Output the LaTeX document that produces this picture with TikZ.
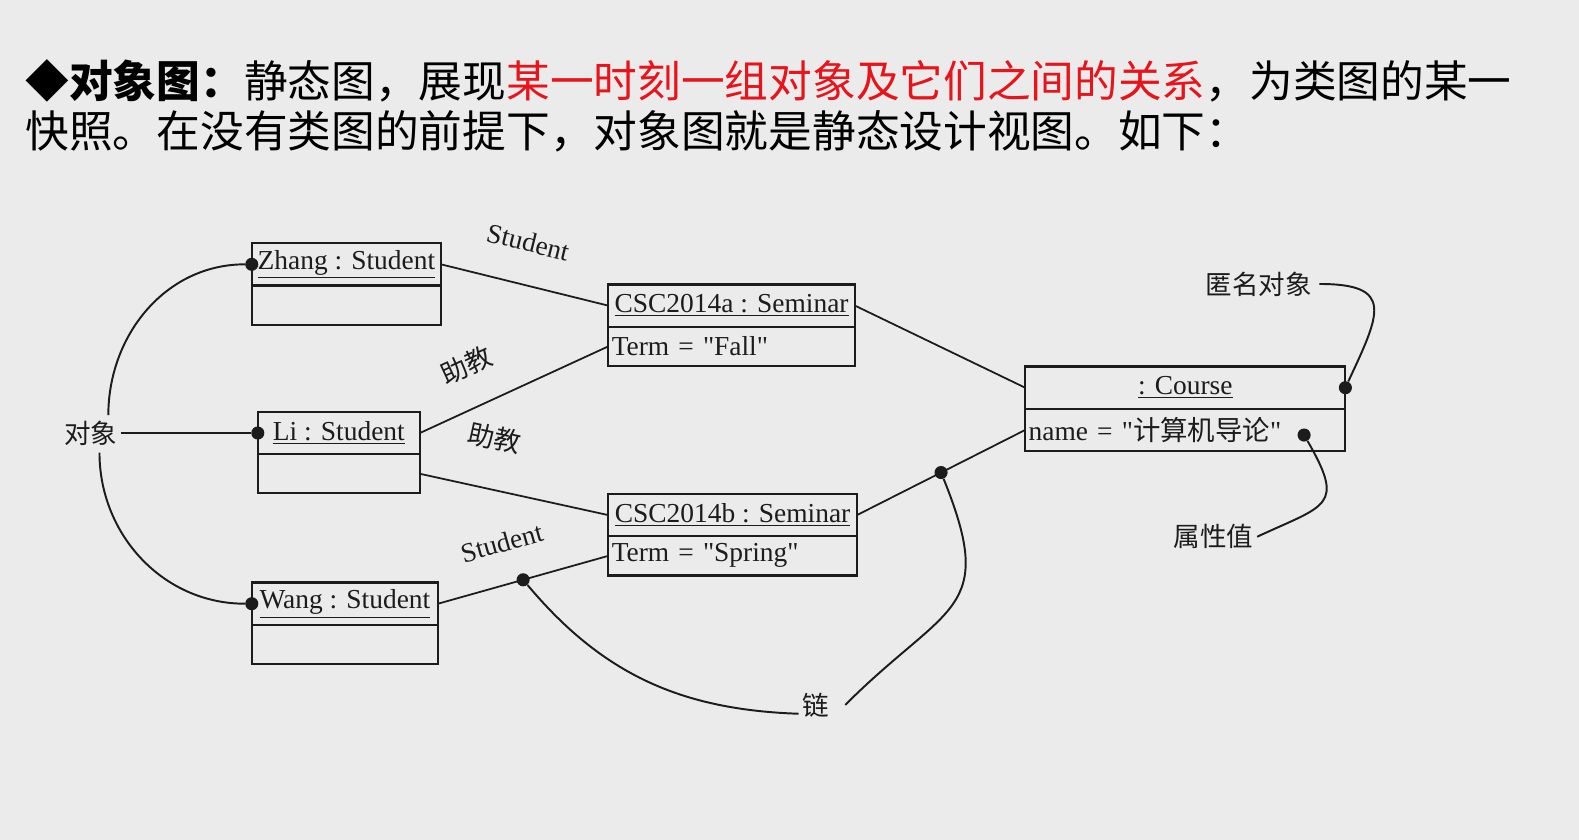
\documentclass[tikz,border=0pt]{standalone}
\usepackage{fontspec}
\setmainfont{Liberation Serif}
\newfontfamily\cjk{Noto Sans CJK SC}
\usetikzlibrary{positioning, calc}
\definecolor{fondo}{HTML}{EBEBEB}
\definecolor{tinta}{HTML}{1C1C1C}
\definecolor{rojo}{HTML}{E8141B}
\newcommand{\comilla}{\textquotedbl}
\tikzset{
  titulo/.style={anchor=west, inner sep=0pt, font=\cjk\fontsize{24.7}{28}\selectfont, text=black},
  objcab/.style={rectangle, draw=tinta, line width=1.2pt, outer sep=0pt, minimum height=0.84cm,
                 inner sep=1pt, font=\fontsize{15.5}{17}\selectfont, text=tinta},
  objatr/.style={rectangle, draw=tinta, line width=1.2pt, outer sep=0pt, minimum height=0.78cm,
                 inner xsep=2pt, inner ysep=1pt, align=left, font=\fontsize{15.5}{17}\selectfont, text=tinta},
  etiq/.style={font=\fontsize{15.5}{17}\selectfont, text=tinta, inner sep=1pt},
  etiqcn/.style={font=\cjk\fontsize{15}{17}\selectfont, text=tinta, inner sep=2pt},
  punto/.style={circle, fill=tinta, inner sep=0pt, minimum size=0.26cm},
  enlace/.style={line width=1.0pt, draw=tinta},
  guia/.style={line width=1.1pt, draw=tinta}
}

\begin{document}
\begin{tikzpicture}
  \fill [fondo] (0,0) rectangle (31.36,16.68);
  \useasboundingbox (0,0) rectangle (31.36,16.68);
  \node (titulo1) [titulo] at (0.5,15.08) {{\bfseries ◆对象图：}静态图，展现{\color{rojo}某一时刻一组对象及它们之间的关系}，为类图的某一};
  \node (titulo2) [titulo] at (0.5,14.08) {快照。在没有类图的前提下，对象图就是静态设计视图。如下：};
  % objetos
  \node (zhang) [objcab, minimum width=3.76cm] at (6.88,11.43) {\underline{Zhang : Student}};
  \node (zhangA) [objatr, minimum width=3.76cm, below=0pt of zhang] {};
  \node (li) [objcab, minimum width=3.22cm] at (6.73,8.08) {\underline{Li : Student}};
  \node (liA) [objatr, minimum width=3.22cm, below=0pt of li] {};
  \node (wang) [objcab, minimum width=3.70cm] at (6.85,4.69) {\underline{Wang : Student}};
  \node (wangA) [objatr, minimum width=3.70cm, below=0pt of wang] {};
  \node (csca) [objcab, minimum width=4.90cm] at (14.53,10.61) {\underline{CSC2014a : Seminar}};
  \node (cscaA) [objatr, text width=4.76cm, below=0pt of csca] {Term = \comilla Fall\comilla};
  \node (cscb) [objcab, minimum width=4.94cm] at (14.55,6.45) {\underline{CSC2014b : Seminar}};
  \node (cscbA) [objatr, text width=4.80cm, below=0pt of cscb] {Term = \comilla Spring\comilla};
  \node (course) [objcab, minimum width=6.36cm] at (23.54,8.98) {\underline{: Course}};
  \node (courseA) [objatr, text width=6.22cm, minimum height=0.84cm, below=0pt of course] {name = \comilla{\cjk 计算机导论}\comilla};
  % enlaces
  \draw [enlace] (zhang.east) -- (csca.west) node (rolA) [etiq, pos=0.46, above=0.6cm, sloped] {Student};
  \draw [enlace] (li.east) -- (cscaA.west) node (rolB) [etiqcn, pos=0.34, above=0.5cm, sloped] {助教};
  \draw [enlace] (liA.east) -- (cscb.west) node (rolC) [etiqcn, pos=0.34, above=0.68cm, sloped] {助教};
  \draw [enlace] (wang.east) -- (cscbA.west) node (rolD) [etiq, pos=0.44, above=0.58cm, sloped] {Student};
  \draw [enlace] (csca.east) -- (course.west);
  \draw [enlace] (cscb.east) -- (courseA.west);
  \node (nudoA) [punto] at ($(wang.east)!0.5!(cscbA.west)$) {};
  \node (nudoB) [punto] at ($(cscb.east)!0.5!(courseA.west)$) {};
  % notas
  \node (puntoZ) [punto] at (zhang.west) {};
  \node (puntoL) [punto] at (li.west) {};
  \node (puntoW) [punto] at (wang.west) {};
  \node (puntoC) [punto] at (course.east) {};
  \node (puntoN) [punto] at (25.9,8.04) {};
  \node (objeto) [etiqcn] at (1.8,8.08) {对象};
  \node (anonimo) [etiqcn] at (25.0,11.04) {匿名对象};
  \node (atributo) [etiqcn] at (24.1,6.02) {属性值};
  \node (lian) [etiqcn] at (16.2,2.68) {链};
  \draw [guia] ([xshift=10pt, yshift=1pt]objeto.north) to[out=90, in=180] (puntoZ);
  \draw [guia] (objeto.east) -- (puntoL);
  \draw [guia] ([xshift=5pt, yshift=-2pt]objeto.south) to[out=-90, in=180] (puntoW);
  \draw [guia] (nudoA) to[out=-50, in=178] ([yshift=-5pt]lian.west);
  \draw [guia] ([xshift=7pt]lian.east) to[out=45, in=-68, looseness=1.5] (nudoB);
  \draw [guia] ([xshift=2pt]anonimo.east) to[out=0, in=65, looseness=1.9] (puntoC);
  \draw [guia] (atributo.east) to[out=25, in=-60, looseness=1.8] (puntoN);
\end{tikzpicture}
\end{document}
